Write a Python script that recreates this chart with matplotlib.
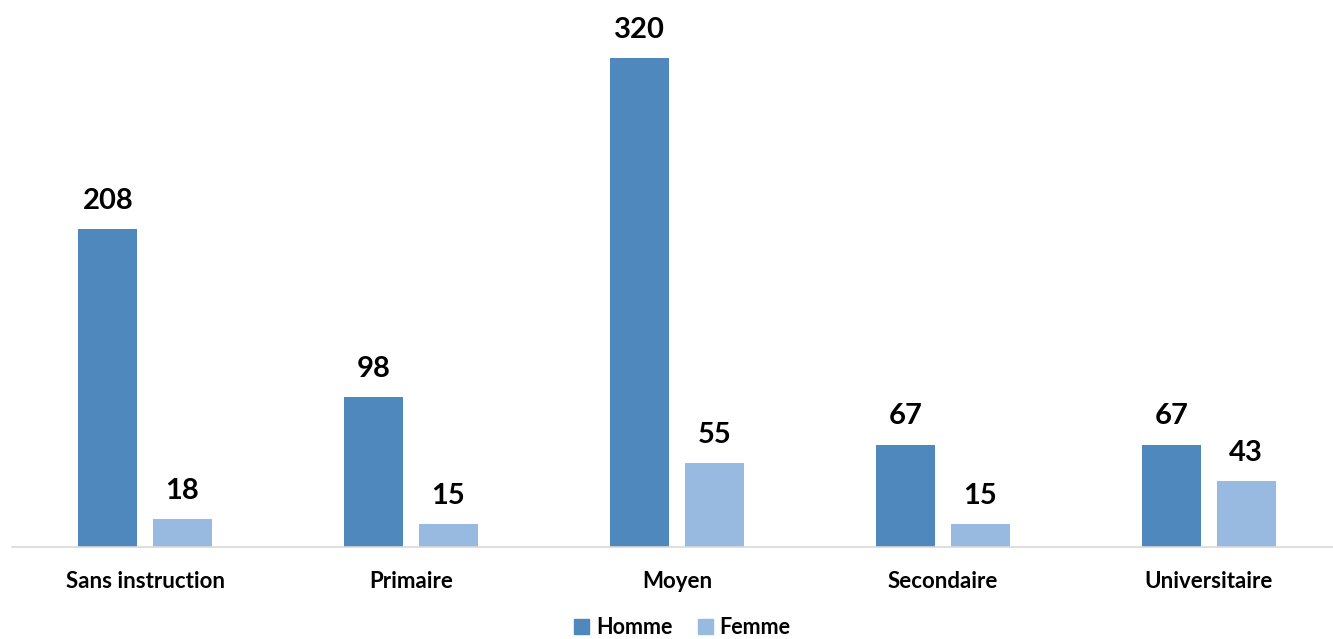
import matplotlib.pyplot as plt
import numpy as np
from matplotlib.patches import Patch

categories = ["Sans instruction", "Primaire", "Moyen", "Secondaire", "Universitaire"]
homme = [208, 98, 320, 67, 67]
femme = [18, 15, 55, 15, 43]

c_homme = "#4F88BC"
c_femme = "#98B9E0"

plt.rcParams['font.family'] = ['Lato', 'DejaVu Sans']

fig = plt.figure(figsize=(13.33, 6.39), dpi=100)
ax = fig.add_axes([12 / 1333, 92 / 639, 1 - 12 / 1333, 547 / 639])

x = np.arange(len(categories))
w = 0.222
off = 0.14
b1 = ax.bar(x - off, homme, w, color=c_homme)
b2 = ax.bar(x + off, femme, w, color=c_femme)

# value labels above each bar
for bars in (b1, b2):
    for rect in bars:
        ax.annotate(f"{int(rect.get_height())}",
                    (rect.get_x() + rect.get_width() / 2, rect.get_height()),
                    xytext=(0, 11), textcoords="offset points",
                    ha="center", va="bottom", fontsize=21, fontweight="bold")

ax.set_xlim(-0.5, 4.466)
ax.set_ylim(0, 358)
ax.set_xticks(x)
ax.set_xticklabels(categories, fontsize=16, fontweight="bold")
ax.tick_params(axis="x", length=0, pad=17)
ax.set_yticks([])
for s in ("top", "right", "left"):
    ax.spines[s].set_visible(False)
ax.spines["bottom"].set_color("#D9D9D9")
ax.spines["bottom"].set_linewidth(1.2)

handles = [Patch(color=c_homme, label="Homme"), Patch(color=c_femme, label="Femme")]
fig.legend(handles=handles, loc="lower center", bbox_to_anchor=(0.512, -0.022), ncol=2,
           frameon=False, prop={"size": 15.5, "weight": "bold"},
           handlelength=0.7, handleheight=0.7, handletextpad=0.3, columnspacing=1.2,
           borderpad=0.2)

fig.savefig("out.png", dpi=100)
